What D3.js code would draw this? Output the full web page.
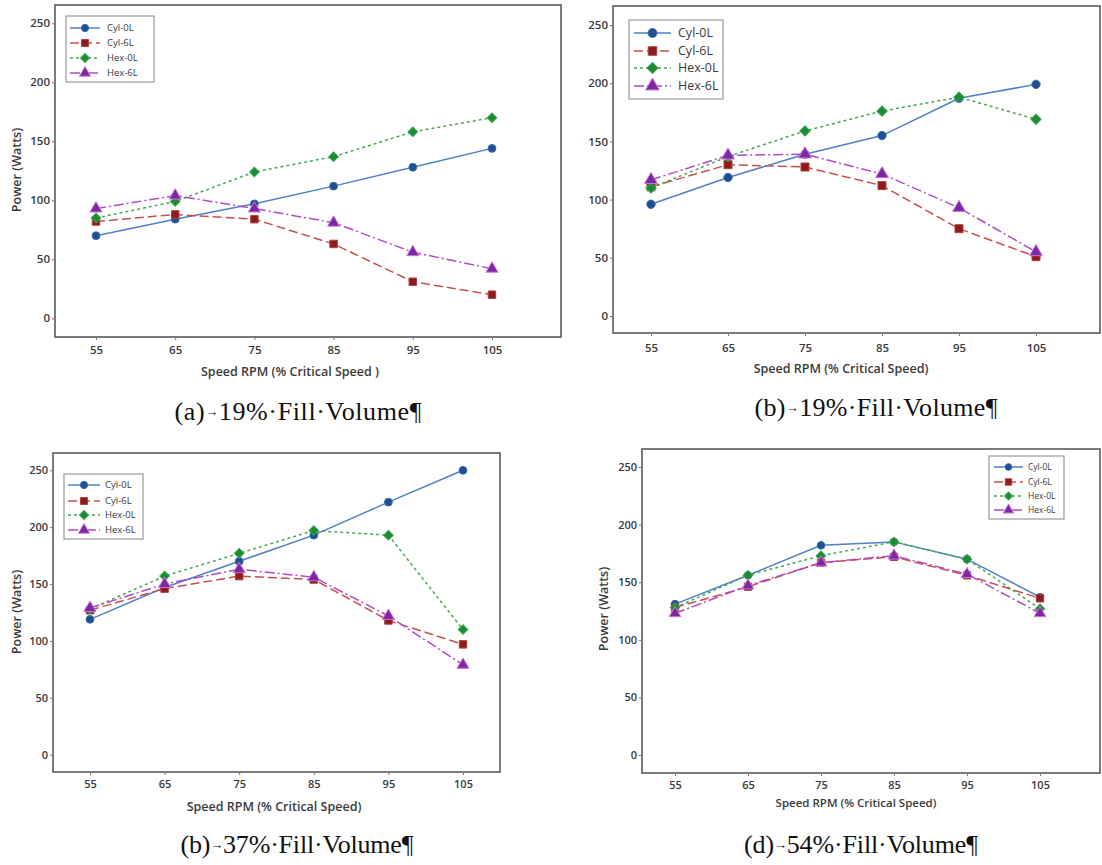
<!DOCTYPE html>
<html>
<head>
<meta charset="utf-8">
<script src="https://cdn.jsdelivr.net/npm/d3@7"></script>
<style>
  html, body { margin: 0; padding: 0; background: #fff; }
  svg { display: block; }
</style>
</head>
<body>
<svg id="chart" width="1102" height="865"></svg>
<script>
// ---------------- DATA ----------------
const speeds = [55, 65, 75, 85, 95, 105];
const seriesNames = ["Cyl-0L", "Cyl-6L", "Hex-0L", "Hex-6L"];
const yTickValues = [0, 50, 100, 150, 200, 250];
const captionLabels = ["(a)", "(b)", "(b)", "(d)"];
const captionTexts = [
  "19%\u00B7Fill\u00B7Volume\u00B6",
  "19%\u00B7Fill\u00B7Volume\u00B6",
  "37%\u00B7Fill\u00B7Volume\u00B6",
  "54%\u00B7Fill\u00B7Volume\u00B6"
];
const xTitles = [
  "Speed RPM (% Critical Speed )",
  "Speed RPM (% Critical Speed)",
  "Speed RPM (% Critical Speed)",
  "Speed RPM (% Critical Speed)"
];
const yTitle = "Power (Watts)";

// Panel (a) 19% fill
const a_cyl0L = [70, 84, 97, 112, 128, 144];
const a_cyl6L = [82, 88, 84, 63, 31, 20];
const a_hex0L = [85, 99, 124, 137, 158, 170];
const a_hex6L = [93, 104, 93, 81, 56, 42];
// Panel (b) 19% fill
const b_cyl0L = [96, 119, 139, 155, 187, 199];
const b_cyl6L = [111, 130, 128, 112, 75, 51];
const b_hex0L = [110, 137, 159, 176, 188, 169];
const b_hex6L = [117, 138, 139, 122, 93, 55];
// Panel (c) 37% fill
const c_cyl0L = [119, 147, 170, 193, 222, 250];
const c_cyl6L = [127, 146, 157, 154, 118, 97];
const c_hex0L = [128, 157, 177, 197, 193, 110];
const c_hex6L = [129, 150, 163, 156, 122, 79];
// Panel (d) 54% fill
const d_cyl0L = [131, 156, 182, 185, 170, 137];
const d_cyl6L = [128, 146, 167, 172, 156, 136];
const d_hex0L = [128, 156, 173, 185, 170, 127];
const d_hex6L = [123, 147, 167, 173, 157, 123];

const panelData = [
  [a_cyl0L, a_cyl6L, a_hex0L, a_hex6L],
  [b_cyl0L, b_cyl6L, b_hex0L, b_hex6L],
  [c_cyl0L, c_cyl6L, c_hex0L, c_hex6L],
  [d_cyl0L, d_cyl6L, d_hex0L, d_hex6L]
];

// ---------------- STYLES / LAYOUT ----------------
const seriesStyle = [
  { line: "#4f81c4", fill: "#1f4f8f", stroke: "#3a6db0", dash: null,       sym: d3.symbolCircle,   size: 48, rot: 0 },
  { line: "#c8504c", fill: "#8e1b1b", stroke: "#b04040", dash: "9,4",      sym: d3.symbolSquare,   size: 56, rot: 0 },
  { line: "#46a850", fill: "#1d8a36", stroke: "#36a548", dash: "3,3",      sym: d3.symbolSquare,   size: 46, rot: 45 },
  { line: "#b24ac8", fill: "#7a2aa0", stroke: "#d070e0", dash: "10,3,2,3", sym: d3.symbolTriangle, size: 62, rot: 0 }
];

const panels = [
  { frame: [55, 5, 561, 337],   x55: 96,  x105: 492,  y0: 318.3, y250: 23.3,
    tickY: 350, xTitle: [290, 372], yTitlePos: [17, 170], capPos: [298, 420], capW: 247,
    legend: { box: [66, 16, 154, 82], rows: [28, 43, 58, 73], l0: 70, l1: 100, tx: 107, fs: 9.5 },
    xfs: 12.5, tfs: 11.5, ms: 1 },
  { frame: [613, 6, 1100, 333], x55: 651, x105: 1036, y0: 316,   y250: 25,
    tickY: 348, xTitle: [841, 369], yTitlePos: null, capPos: [876, 416], capW: 243,
    legend: { box: [629, 20, 723, 99], rows: [33, 51, 68, 86], l0: 634, l1: 671, tx: 678, fs: 12.5 },
    xfs: 12.5, tfs: 11.5, ms: 1.15 },
  { frame: [53, 453, 500, 772], x55: 90,  x105: 463,  y0: 754.7, y250: 470.3,
    tickY: 784, xTitle: [274, 807], yTitlePos: [17, 612], capPos: [297, 853], capW: 233,
    legend: { box: [64, 474, 143, 539], rows: [485, 501, 515, 530], l0: 68, l1: 100, tx: 105, fs: 9.5 },
    xfs: 12.5, tfs: 11, ms: 1 },
  { frame: [642, 449, 1100, 773], x55: 675, x105: 1040, y0: 755,   y250: 467,
    tickY: 785, xTitle: [856, 803], yTitlePos: [604, 609], capPos: [861, 853], capW: 234,
    legend: { box: [989, 456, 1064, 519], rows: [467, 482, 496, 510], l0: 994, l1: 1023, tx: 1028, fs: 8.5 },
    xfs: 11.5, tfs: 11, ms: 0.95 }
];

const svg = d3.select("#chart");
svg.append("rect").attr("width", 1102).attr("height", 865).attr("fill", "#fff");

const sansFont = "'Open Sans', 'Noto Sans', sans-serif";
const serifFont = "'Liberation Serif', 'Times New Roman', serif";
const textColor = "#3a3a3a";

function marker(sel, st, scale) {
  sel.attr("d", d3.symbol().type(st.sym).size(st.size * scale))
    .attr("fill", st.fill).attr("stroke", st.stroke).attr("stroke-width", 1);
}

panels.forEach((p, pi) => {
  const g = svg.append("g");
  const x = d3.scaleLinear().domain([55, 105]).range([p.x55, p.x105]);
  const y = d3.scaleLinear().domain([0, 250]).range([p.y0, p.y250]);
  const [fx0, fy0, fx1, fy1] = p.frame;

  // plot frame
  g.append("rect")
    .attr("x", fx0).attr("y", fy0)
    .attr("width", fx1 - fx0).attr("height", fy1 - fy0)
    .attr("fill", "#fff").attr("stroke", "#5a5a5a").attr("stroke-width", 1.6);

  // Y axis
  const yAxis = d3.axisLeft(y).tickValues(yTickValues).tickSize(3).tickPadding(2);
  const yg = g.append("g").attr("transform", `translate(${fx0},0)`).call(yAxis);
  yg.select(".domain").remove();
  yg.selectAll("line").attr("stroke", "#777");
  yg.selectAll("text").attr("font-family", sansFont).attr("font-size", p.tfs)
    .attr("font-weight", 600).attr("fill", textColor);

  // X axis
  const xAxis = d3.axisBottom(x).tickValues(speeds).tickSize(3).tickPadding(2).tickFormat(d3.format("d"));
  const xg = g.append("g").attr("transform", `translate(0,${fy1})`).call(xAxis);
  xg.select(".domain").remove();
  xg.selectAll("line").attr("stroke", "#777");
  xg.selectAll("text")
    .attr("y", p.tickY - fy1).attr("dy", "0.35em")
    .attr("font-family", sansFont).attr("font-size", p.tfs)
    .attr("font-weight", 600).attr("fill", textColor);

  // axis titles
  g.append("text")
    .attr("x", p.xTitle[0]).attr("y", p.xTitle[1]).attr("dy", "0.35em")
    .attr("text-anchor", "middle")
    .attr("font-family", sansFont).attr("font-size", p.xfs).attr("font-weight", 600)
    .attr("fill", textColor).text(xTitles[pi]);
  if (p.yTitlePos) {
    g.append("text")
      .attr("transform", `translate(${p.yTitlePos[0]},${p.yTitlePos[1]}) rotate(-90)`)
      .attr("dy", "0.35em").attr("text-anchor", "middle")
      .attr("font-family", sansFont).attr("font-size", 12.5).attr("font-weight", 600)
      .attr("fill", textColor).text(yTitle);
  }

  // series lines
  const line = d3.line().x((d, i) => x(speeds[i])).y(d => y(d));
  panelData[pi].forEach((vals, si) => {
    const st = seriesStyle[si];
    g.append("path")
      .datum(vals)
      .attr("d", line)
      .attr("fill", "none")
      .attr("stroke", st.line)
      .attr("stroke-width", 1.5)
      .attr("stroke-dasharray", st.dash);
  });
  // series markers
  panelData[pi].forEach((vals, si) => {
    const st = seriesStyle[si];
    g.selectAll(null).data(vals).enter().append("path")
      .attr("transform", (d, i) => `translate(${x(speeds[i])},${y(d)}) rotate(${st.rot})`)
      .call(marker, st, p.ms);
  });

  // legend
  const L = p.legend;
  g.append("rect")
    .attr("x", L.box[0]).attr("y", L.box[1])
    .attr("width", L.box[2] - L.box[0]).attr("height", L.box[3] - L.box[1])
    .attr("fill", "#fff").attr("stroke", "#9a9a9a").attr("stroke-width", 1.2);
  seriesNames.forEach((name, si) => {
    const st = seriesStyle[si];
    const ry = L.rows[si];
    g.append("line")
      .attr("x1", L.l0).attr("x2", L.l1).attr("y1", ry).attr("y2", ry)
      .attr("stroke", st.line).attr("stroke-width", 1.5)
      .attr("stroke-dasharray", st.dash);
    g.append("path")
      .attr("transform", `translate(${(L.l0 + L.l1) / 2},${ry}) rotate(${st.rot})`)
      .call(marker, st, p.ms * (L.fs / 11));
    g.append("text")
      .attr("x", L.tx).attr("y", ry).attr("dy", "0.35em")
      .attr("font-family", sansFont).attr("font-size", L.fs)
      .attr("fill", textColor).text(name);
  });

  // caption
  const cap = g.append("text")
    .attr("x", p.capPos[0]).attr("y", p.capPos[1])
    .attr("text-anchor", "middle")
    .attr("font-family", serifFont)
    .attr("font-size", 26)
    .attr("fill", "#111")
    .attr("textLength", p.capW).attr("lengthAdjust", "spacing");
  cap.append("tspan").text(captionLabels[pi]);
  cap.append("tspan").attr("font-size", 13).attr("dy", -4).text("\u2192");
  cap.append("tspan").attr("dy", 4).text(captionTexts[pi]);
});
</script>
</body>
</html>
